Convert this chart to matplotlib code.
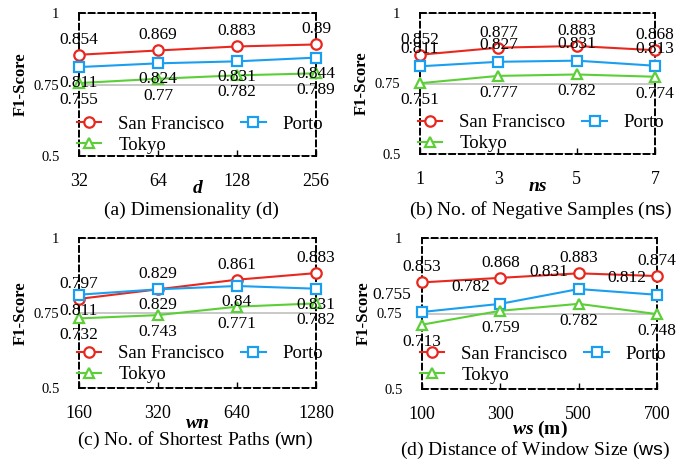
import matplotlib
matplotlib.use("Agg")
import matplotlib.pyplot as plt

plt.rcParams["font.family"] = ["Liberation Serif", "DejaVu Serif"]
plt.rcParams["mathtext.fontset"] = "custom"
plt.rcParams["mathtext.rm"] = "Liberation Serif"
plt.rcParams["mathtext.sf"] = "Liberation Sans"
plt.rcParams["mathtext.bfit"] = "Liberation Serif:italic:bold"

# ── data ─────────────────────────────────────────────────────────────────────
d_ticks = ["32", "64", "128", "256"]
d_sf = [0.854, 0.869, 0.883, 0.89]
d_porto = [0.811, 0.824, 0.831, 0.844]
d_tokyo = [0.755, 0.77, 0.782, 0.789]

ns_ticks = ["1", "3", "5", "7"]
ns_sf = [0.852, 0.877, 0.883, 0.868]
ns_porto = [0.811, 0.827, 0.831, 0.813]
ns_tokyo = [0.751, 0.777, 0.782, 0.774]

wn_ticks = ["160", "320", "640", "1280"]
wn_sf = [0.797, 0.829, 0.861, 0.883]
wn_porto = [0.811, 0.829, 0.84, 0.831]
wn_tokyo = [0.732, 0.743, 0.771, 0.782]

ws_ticks = ["100", "300", "500", "700"]
ws_sf = [0.853, 0.868, 0.883, 0.874]
ws_porto = [0.755, 0.782, 0.831, 0.812]
ws_tokyo = [0.713, 0.759, 0.782, 0.748]

RED = "#e8281e"
BLUE = "#1a9ff0"
GREEN = "#5ccf38"

fig = plt.figure(figsize=(6.87, 4.63), dpi=100)
W, H = 687, 463


def add_ax(left, top, right, bottom):
    return fig.add_axes([left / W, 1 - bottom / H, (right - left) / W, (bottom - top) / H])


def panel(ax, ticks, sf, porto, tokyo, xlabel, porto_off, xlabelpad):
    x = list(range(len(ticks)))
    l_sf, = ax.plot(x, sf, color=RED, marker="o", lw=1.5, ms=7.5, mew=1.6,
                    mfc="white", clip_on=False, zorder=5, label="San Francisco")
    l_po, = ax.plot(x, porto, color=BLUE, marker="s", lw=1.5, ms=7, mew=1.6,
                    mfc="white", clip_on=False, zorder=5, label="Porto")
    l_to, = ax.plot(x, tokyo, color=GREEN, marker="^", lw=1.5, ms=7.5, mew=1.6,
                    mfc="white", clip_on=False, zorder=5, label="Tokyo")
    for xi, v in zip(x, sf):
        ax.annotate(f"{v:g}", (xi, v), xytext=(0, 15), textcoords="offset pixels",
                    ha="center", va="center", fontsize=12.5, zorder=6)
    for xi, v in zip(x, porto):
        ax.annotate(f"{v:g}", (xi, v), xytext=porto_off, textcoords="offset pixels",
                    ha="center", va="center", fontsize=12.5, zorder=6)
    for xi, v in zip(x, tokyo):
        ax.annotate(f"{v:g}", (xi, v), xytext=(0, -17), textcoords="offset pixels",
                    ha="center", va="center", fontsize=12.5, zorder=6)

    ax.set_xlim(0, len(ticks) - 1)
    ax.set_ylim(0.5, 1)
    ax.set_xticks(x)
    ax.set_xticklabels(ticks, fontsize=13)
    ax.set_yticks([0.5, 0.75, 1])
    ax.set_yticklabels(["0.5", "0.75", "1"], fontsize=10.5)
    ax.tick_params(axis="x", direction="in", length=4, width=1, pad=12)
    ax.tick_params(axis="y", length=0, pad=14)
    ax.yaxis.grid(True, color="#c8c8c8", lw=1.4)
    ax.set_axisbelow(True)
    for s in ax.spines.values():
        s.set_linestyle((0, (3, 2)))
        s.set_linewidth(1.4)
    ax.set_ylabel("F1-Score", fontsize=12, fontweight="bold", labelpad=4)
    ax.set_xlabel(xlabel, fontsize=14, fontweight="bold", style="italic",
                  labelpad=xlabelpad)
    # order so that row 1 is San Francisco / Porto and row 2 is Tokyo
    ax.legend([l_sf, l_to, l_po], ["San Francisco", "Tokyo", "Porto"],
              loc="upper left", bbox_to_anchor=(-0.04, 0.335), ncol=2, frameon=False,
              fontsize=13.5, handlelength=1.3, handletextpad=0.9, columnspacing=0.9,
              labelspacing=0.2, borderaxespad=0)


ax_a = add_ax(79, 13, 316, 156)
panel(ax_a, d_ticks, d_sf, d_porto, d_tokyo, "d", (0, -16), -7)
ax_b = add_ax(420, 13, 655, 154)
panel(ax_b, ns_ticks, ns_sf, ns_porto, ns_tokyo, "ns", (0, 17), -7)
ax_c = add_ax(79, 238, 316, 388)
panel(ax_c, wn_ticks, wn_sf, wn_porto, wn_tokyo, "wn", (0, -16), -5)
ax_d = add_ax(422, 238, 657, 389)
panel(ax_d, ws_ticks, ws_sf, ws_porto, ws_tokyo, r"$\mathbfit{ws}$ (m)", (-30, 17), -3)
ax_d.xaxis.label.set_style("normal")

captions = [
    (191, 210, "(a) Dimensionality (d)"),
    (541, 210, r"(b) No. of Negative Samples ($\mathsf{ns}$)"),
    (195, 440, r"(c) No. of Shortest Paths ($\mathsf{wn}$)"),
    (535, 450, r"(d) Distance of Window Size ($\mathsf{ws}$)"),
]
for cx, cy, txt in captions:
    fig.text(cx / W, 1 - cy / H, txt, ha="center", va="center", fontsize=14)

fig.savefig("out.png", dpi=100)
